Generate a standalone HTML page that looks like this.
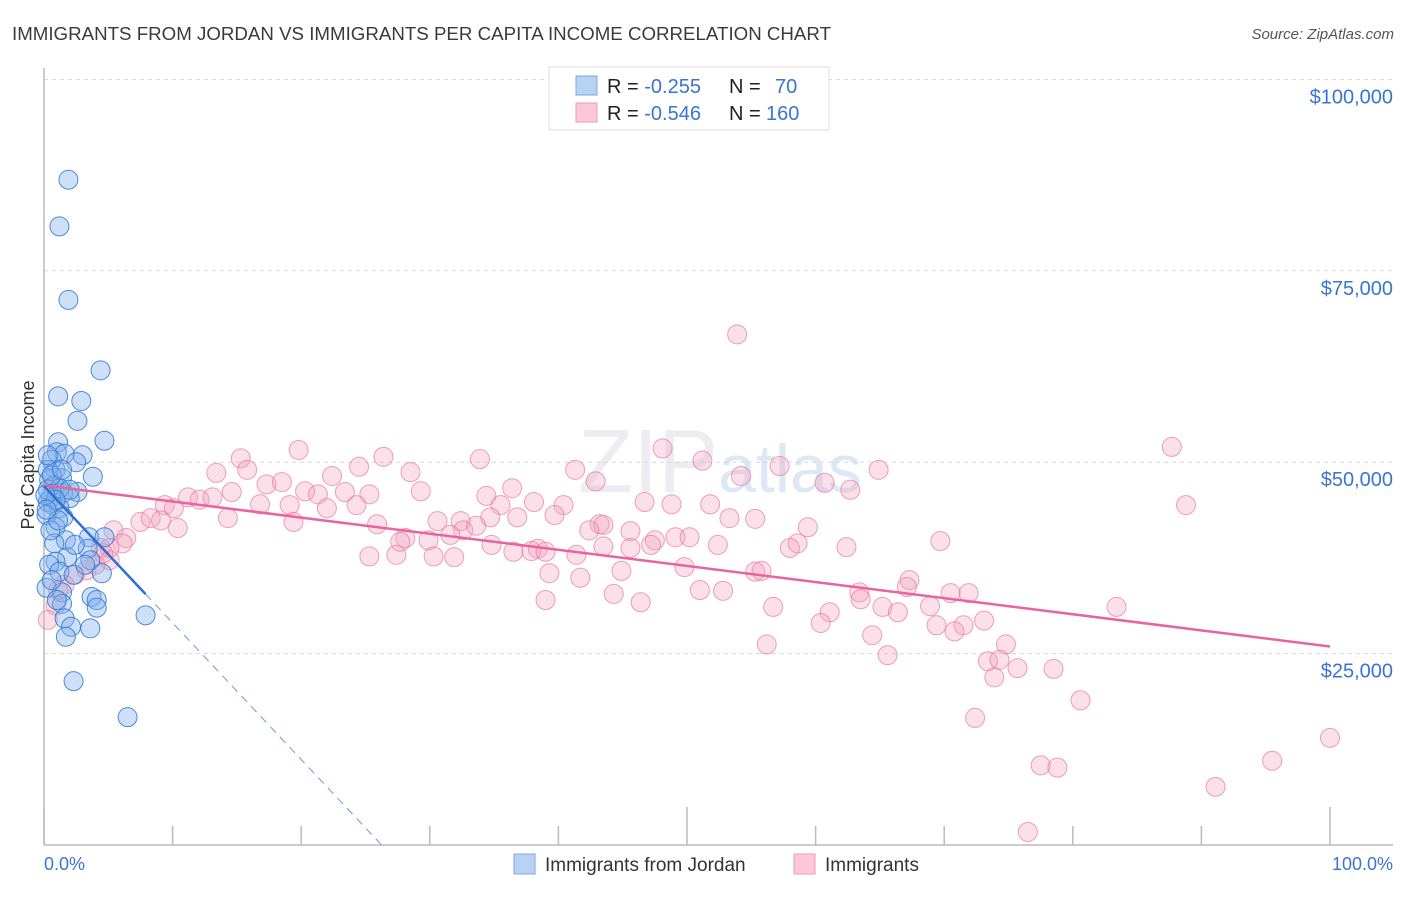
<!DOCTYPE html>
<html><head><meta charset="utf-8">
<style>
body{margin:0;background:#fff;font-family:"Liberation Sans",sans-serif;}
svg text{font-family:"Liberation Sans",sans-serif;}
</style></head>
<body>
<svg id="chart" width="1406" height="892" viewBox="0 0 1406 892" xmlns="http://www.w3.org/2000/svg">
<text x="12" y="40" font-size="18" fill="#3a3a3a" textLength="819" lengthAdjust="spacingAndGlyphs">IMMIGRANTS FROM JORDAN VS IMMIGRANTS PER CAPITA INCOME CORRELATION CHART</text>
<text x="1394" y="39" font-size="15" fill="#555" font-style="italic" text-anchor="end">Source: ZipAtlas.com</text>
<text x="720" y="492" font-size="90" fill="#ececf2" text-anchor="middle" font-family="Liberation Serif">ZIP<tspan font-family="Liberation Sans" font-size="68" fill="#dde8f6">atlas</tspan></text>
<g id="grid"></g>
<g id="axes"></g>
<g id="pink"></g>
<g id="blue"></g>
<g id="trends"></g>
<text transform="translate(34,455) rotate(-90)" font-size="18" fill="#333" text-anchor="middle">Per Capita Income</text>
<text x="44" y="870" font-size="18" fill="#3b74d0">0.0%</text>
<text x="1393" y="870" font-size="18" fill="#3b74d0" text-anchor="end">100.0%</text>
<g>
<rect x="549" y="67" width="280" height="63" fill="#fff" stroke="#ddd"/>
<rect x="576" y="76" width="21" height="19" fill="#b8d2f4" stroke="#7aa8e6"/>
<rect x="576" y="103" width="21" height="19" fill="#fbc8d8" stroke="#ee9ab6"/>
<text x="607" y="93" font-size="20" fill="#222">R = <tspan fill="#3b74d0">-0.255</tspan><tspan x="729">N = </tspan><tspan x="775" fill="#3b74d0">70</tspan></text>
<text x="607" y="120" font-size="20" fill="#222">R = <tspan fill="#3b74d0">-0.546</tspan><tspan x="729">N = </tspan><tspan x="766" fill="#3b74d0">160</tspan></text>
</g>
<g>
<rect x="514" y="854" width="21" height="20" fill="#b8d2f4" stroke="#7aa8e6"/>
<text x="545" y="871" font-size="19" fill="#333">Immigrants from Jordan</text>
<rect x="794" y="854" width="21" height="20" fill="#fbc8d8" stroke="#ee9ab6"/>
<text x="825" y="871" font-size="19" fill="#333">Immigrants</text>
</g>
</svg>
<script>
const yTicks=[25000,50000,75000,100000];
const yTickLabels=["$25,000","$50,000","$75,000","$100,000"];
const xTicks=[0,10,20,30,40,50,60,70,80,90,100];
const blueX=[1.9,1.2,1.9,4.4,1.1,2.9,2.6,4.7,1.1,3.0,1.0,1.6,2.5,0.9,3.8,1.4,0.4,0.8,2.6,1.5,0.5,2.0,0.3,0.7,1.2,1.5,0.2,0.9,1.7,3.5,4.7,0.8,3.4,1.8,0.9,3.6,0.4,4.5,1.2,2.3,0.2,1.4,3.7,4.1,4.1,1.4,1.6,2.1,3.6,1.7,7.9,2.3,6.5,0.6,0.3,0.5,1.2,2.0,0.3,0.9,0.1,0.6,1.1,0.2,1.4,2.4,3.2,1.0,0.6,0.3];
const blueY=[86.9,80.8,71.2,62.0,58.6,58.0,55.4,52.8,52.6,50.9,51.3,51.1,50.0,49.0,48.1,47.9,47.7,47.0,46.1,46.0,45.4,45.3,44.8,44.4,44.0,42.8,43.1,41.5,39.8,40.2,40.2,39.4,38.7,37.6,37.0,37.2,36.6,35.5,35.7,35.3,33.6,33.0,32.4,32.0,31.0,31.5,29.6,28.5,28.3,27.2,30.0,21.4,16.7,50.3,46.4,41.1,46.6,46.4,49.0,45.1,45.7,48.3,42.4,43.8,49.0,39.2,36.6,32.0,34.6,50.9];
const pinkX=[53.9,87.7,48.1,26.4,19.8,15.3,33.9,51.2,57.2,24.5,41.3,64.9,13.4,15.8,28.5,54.2,22.4,42.9,17.3,18.5,20.3,36.4,60.7,62.7,29.3,34.4,21.3,23.4,25.3,11.2,12.1,14.6,13.1,9.4,10.1,16.8,19.1,22.0,24.3,46.7,48.8,51.8,40.4,35.5,38.1,88.8,39.7,53.3,55.3,30.6,32.4,34.7,36.8,7.5,8.3,9.1,10.4,14.3,19.4,25.9,59.4,43.2,45.6,43.5,42.4,32.6,33.6,28.1,29.9,31.6,27.7,47.5,49.1,50.2,52.4,5.4,6.4,4.4,6.1,5.1,69.7,58.6,62.4,47.2,38.4,36.5,34.8,37.9,39.0,41.4,27.4,25.3,30.3,31.9,58.0,5.1,4.0,3.3,2.4,1.6,1.1,0.9,0.3,4.6,49.8,55.3,55.8,44.9,41.7,39.3,67.3,67.1,52.8,63.4,63.5,70.5,71.9,44.3,46.4,39.0,56.7,61.1,65.2,66.4,68.9,83.4,60.4,69.4,71.5,73.1,70.8,64.4,56.2,74.8,65.6,73.4,74.3,75.7,78.5,73.9,80.6,72.4,100.0,95.5,77.5,78.8,91.1,76.5,43.5,45.6,51.0];
const pinkY=[66.7,52.0,51.8,50.7,51.6,50.5,50.4,50.2,49.5,49.4,49.0,49.0,48.6,49.0,48.7,48.2,48.2,47.5,47.1,47.4,46.2,46.6,47.3,46.4,46.2,45.6,45.8,46.1,45.8,45.4,45.1,46.1,45.4,44.4,44.0,44.5,44.4,44.0,44.4,44.8,44.5,44.5,44.4,44.4,44.8,44.4,43.1,42.7,42.6,42.3,42.3,42.8,42.8,42.2,42.7,42.4,41.4,42.7,42.2,41.9,41.5,41.9,41.0,41.8,41.1,41.1,41.7,40.1,39.8,40.5,39.6,39.8,40.2,40.2,39.2,41.1,40.1,38.8,39.4,38.8,39.7,39.4,38.9,39.2,38.7,38.3,39.2,38.4,38.3,37.9,37.9,37.7,37.7,37.6,38.8,37.2,36.6,35.9,35.3,34.0,33.3,31.3,29.4,38.1,36.3,35.7,35.8,35.8,34.9,35.5,34.6,33.7,33.2,33.0,32.1,32.9,32.9,32.8,31.7,32.0,31.1,30.4,31.1,30.4,31.2,31.1,29.0,28.7,28.7,29.3,27.9,27.4,26.2,26.2,24.8,24.0,24.2,23.1,23.0,21.9,18.9,16.6,14.0,11.0,10.4,10.1,7.6,1.7,39.0,38.8,33.3];

const NS="http://www.w3.org/2000/svg";
const X0=44,X1=1330,Y0=845,YPER=191.4/25000;
function sx(p){return X0+(X1-X0)*p/100;}
function sy(v){return Y0-v*YPER;}
function mk(tag,attrs,parent){const e=document.createElementNS(NS,tag);for(const k in attrs)e.setAttribute(k,attrs[k]);parent.appendChild(e);return e;}
const grid=document.getElementById('grid'),axes=document.getElementById('axes');
yTicks.forEach((t,i)=>{
  const l=mk('line',{x1:44,x2:1393,y1:sy(t),y2:sy(t),stroke:'#d8d8d8','stroke-dasharray':'4,4'},grid);
  
  
  const tx=mk('text',{x:1393,y:sy(t)+24,'font-size':20,fill:'#3b74d0','text-anchor':'end'},axes);
  tx.textContent=yTickLabels[i];
  
  
});
const ya=mk('line',{x1:44,x2:44,y1:68,y2:845,stroke:'#bbb','stroke-width':1.5},axes);


const xa=mk('line',{x1:44,x2:1393,y1:845,y2:845,stroke:'#bbb','stroke-width':1.5},axes);


xTicks.forEach(t=>{
  const tk=mk('line',{x1:sx(t),x2:sx(t),y1:(t%50===0?807:826),y2:845,stroke:'#bbb','stroke-width':1.5},axes);
  
  
});
function draw(xs,ys,g,fill,stroke,name){
  xs.forEach((x,i)=>{
    const c=mk('circle',{cx:sx(x),cy:sy(ys[i]*1000),r:9.5,fill:fill,stroke:stroke,'stroke-width':1},g);
    
    
  });
}
draw(pinkX,pinkY,document.getElementById('pink'),'rgba(244,160,188,0.32)','rgba(232,120,160,0.7)','immigrants-point');
draw(blueX,blueY,document.getElementById('blue'),'rgba(130,178,236,0.4)','rgba(50,120,210,0.85)','jordan-point');
function reg(xs,ys){const n=xs.length;let mx=0,my=0;for(let i=0;i<n;i++){mx+=xs[i];my+=ys[i];}mx/=n;my/=n;let sxy=0,sxx=0;for(let i=0;i<n;i++){sxy+=(xs[i]-mx)*(ys[i]-my);sxx+=(xs[i]-mx)**2;}const b=sxy/sxx;return [my-b*mx,b];}
const tr=document.getElementById('trends');
const [pa,pb]=reg(pinkX,pinkY);
const pl=mk('line',{x1:sx(0),y1:sy(pa*1000),x2:sx(100),y2:sy((pa+pb*100)*1000),stroke:'#e8649a','stroke-width':2.5},tr);


const [ba,bb]=reg(blueX,blueY);
const bmax=Math.max(...blueX);
const bl=mk('line',{x1:sx(0),y1:sy(ba*1000),x2:sx(bmax),y2:sy((ba+bb*bmax)*1000),stroke:'#2f6fd6','stroke-width':2.5},tr);


const xz=bb<0?-ba/bb:100;
const bd=mk('line',{x1:sx(bmax),y1:sy((ba+bb*bmax)*1000),x2:sx(Math.min(xz,100)),y2:sy(Math.max(ba+bb*Math.min(xz,100),0)*1000),stroke:'#6a98dc','stroke-width':1,'stroke-dasharray':'8,6'},tr);


</script>
</body></html>
